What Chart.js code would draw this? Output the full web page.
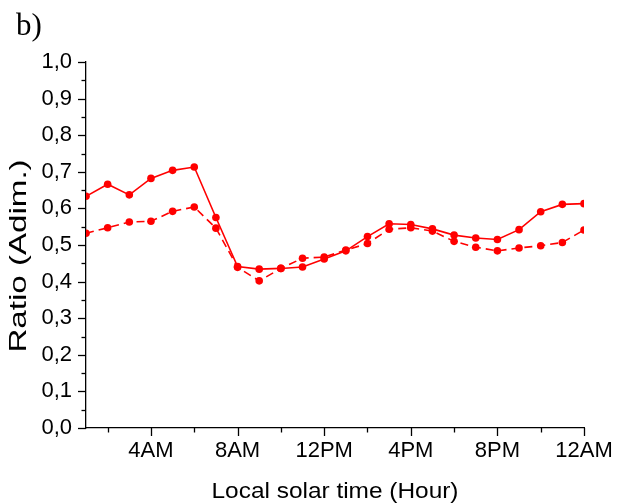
<!DOCTYPE html>
<html>
<head>
<meta charset="utf-8">
<script src="https://cdn.jsdelivr.net/npm/chart.js@4.4.0/dist/chart.umd.min.js"></script>
<style>
  html, body { margin: 0; padding: 0; background: #fff; }
  #wrap { width: 617px; height: 504px; }
</style>
</head>
<body>
<div id="wrap"><canvas id="c" width="617" height="504"></canvas></div>
<script>
// ---- data ----
const hours = [1,2,3,4,5,6,7,8,9,10,11,12,13,14,15,16,17,18,19,20,21,22,23,24];
const solidSeries = [0.633,0.666,0.637,0.682,0.704,0.713,0.575,0.441,0.434,0.436,0.440,0.462,
                     0.484,0.523,0.558,0.556,0.544,0.527,0.519,0.515,0.542,0.591,0.611,0.613];
const dashedSeries = [0.532,0.547,0.563,0.565,0.592,0.604,0.546,0.439,0.402,0.436,0.464,0.467,
                      0.486,0.504,0.543,0.547,0.538,0.510,0.494,0.484,0.492,0.498,0.507,0.541];
const xTickValues = [2,4,6,8,10,12,14,16,18,20,22,24];
const xTickLabels = {4:'4AM', 8:'8AM', 12:'12PM', 16:'4PM', 20:'8PM', 24:'12AM'};
const yTickValues = [0,0.1,0.2,0.3,0.4,0.5,0.6,0.7,0.8,0.9,1.0];
const yMinorValues = [0.05,0.15,0.25,0.35,0.45,0.55,0.65,0.75,0.85,0.95];
const panelLabel = 'b)';
const xTitle = 'Local solar time (Hour)';
const yTitle = 'Ratio (Adim.)';

const toPts = arr => hours.map((h, i) => ({x: h, y: arr[i]}));
const SANS = '"Liberation Sans", Arial, sans-serif';

const tickPlugin = {
  id: 'customTicks',
  afterDraw(chart) {
    const ctx = chart.ctx;
    const xs = chart.scales.x, ys = chart.scales.y;
    const area = chart.chartArea;
    ctx.save();
    ctx.strokeStyle = '#000';
    ctx.lineWidth = 1.3;
    // y ticks (major + minor)
    yTickValues.forEach(v => {
      const y = Math.round(ys.getPixelForValue(v)) + 0.5;
      ctx.beginPath(); ctx.moveTo(area.left - 8, y); ctx.lineTo(area.left, y); ctx.stroke();
    });
    yMinorValues.forEach(v => {
      const y = Math.round(ys.getPixelForValue(v)) + 0.5;
      ctx.beginPath(); ctx.moveTo(area.left - 4.5, y); ctx.lineTo(area.left, y); ctx.stroke();
    });
    // x ticks
    xTickValues.forEach(v => {
      const x = Math.round(xs.getPixelForValue(v)) + 0.5;
      const len = (v % 4 === 0) ? 8 : 4.5;
      ctx.beginPath(); ctx.moveTo(x, area.bottom); ctx.lineTo(x, area.bottom + len); ctx.stroke();
    });
    ctx.fillStyle = '#000';
    // panel label
    ctx.font = '31px "Liberation Serif", "Times New Roman", serif';
    ctx.textBaseline = 'alphabetic';
    ctx.textAlign = 'left';
    ctx.fillText(panelLabel, 16, 35);
    // x title (slightly wide lettering as in the reference)
    ctx.font = '22px ' + SANS;
    ctx.textAlign = 'center';
    ctx.save();
    ctx.translate((area.left + area.right) / 2, 498);
    ctx.scale(1.11, 1);
    ctx.fillText(xTitle, 0, 0);
    ctx.restore();
    // y title
    ctx.save();
    ctx.font = '24px ' + SANS;
    ctx.translate(26, 256);
    ctx.rotate(-Math.PI / 2);
    ctx.scale(1.38, 1);
    ctx.textAlign = 'center';
    ctx.fillText(yTitle, 0, 0);
    ctx.restore();
    ctx.restore();
  }
};

new Chart(document.getElementById('c'), {
  type: 'line',
  data: {
    datasets: [
      {
        data: toPts(solidSeries),
        borderColor: '#ff0000',
        backgroundColor: '#ff0000',
        borderWidth: 1.6,
        pointRadius: 3.8,
        pointBorderWidth: 0,
        pointBackgroundColor: '#ff0000',
        tension: 0,
        fill: false,
        clip: 0
      },
      {
        data: toPts(dashedSeries),
        borderColor: '#ff0000',
        backgroundColor: '#ff0000',
        borderWidth: 1.6,
        borderDash: [8, 5],
        pointRadius: 3.8,
        pointBorderWidth: 0,
        pointBackgroundColor: '#ff0000',
        tension: 0,
        fill: false,
        clip: 0
      }
    ]
  },
  options: {
    responsive: false,
    animation: false,
    devicePixelRatio: 1,
    layout: { padding: { top: 62, right: 33, left: 0, bottom: 0 } },
    plugins: { legend: { display: false }, tooltip: { enabled: false }, title: { display: false } },
    scales: {
      x: {
        type: 'linear',
        min: 1,
        max: 24,
        afterBuildTicks: axis => { axis.ticks = xTickValues.map(v => ({value: v})); },
        afterFit: axis => { axis.height = 76; },
        grid: { drawOnChartArea: false, drawTicks: true, tickLength: 8, color: 'rgba(0,0,0,0)' },
        border: { display: true, color: '#000', width: 1.3 },
        ticks: {
          autoSkip: false, maxRotation: 0, minRotation: 0, padding: 2,
          color: '#000',
          font: { family: SANS, size: 22 },
          callback: v => xTickLabels[v] || ''
        },
        title: { display: false }
      },
      y: {
        min: 0,
        max: 1,
        afterBuildTicks: axis => { axis.ticks = yTickValues.map(v => ({value: v})); },
        afterFit: axis => { axis.width = 86; },
        grid: { drawOnChartArea: false, drawTicks: true, tickLength: 8, color: 'rgba(0,0,0,0)' },
        border: { display: true, color: '#000', width: 1.3 },
        ticks: {
          padding: 6, color: '#000',
          font: { family: SANS, size: 22 },
          callback: v => Number(v).toFixed(1).replace('.', ',')
        },
        title: { display: false }
      }
    }
  },
  plugins: [tickPlugin]
});
</script>
</body>
</html>
